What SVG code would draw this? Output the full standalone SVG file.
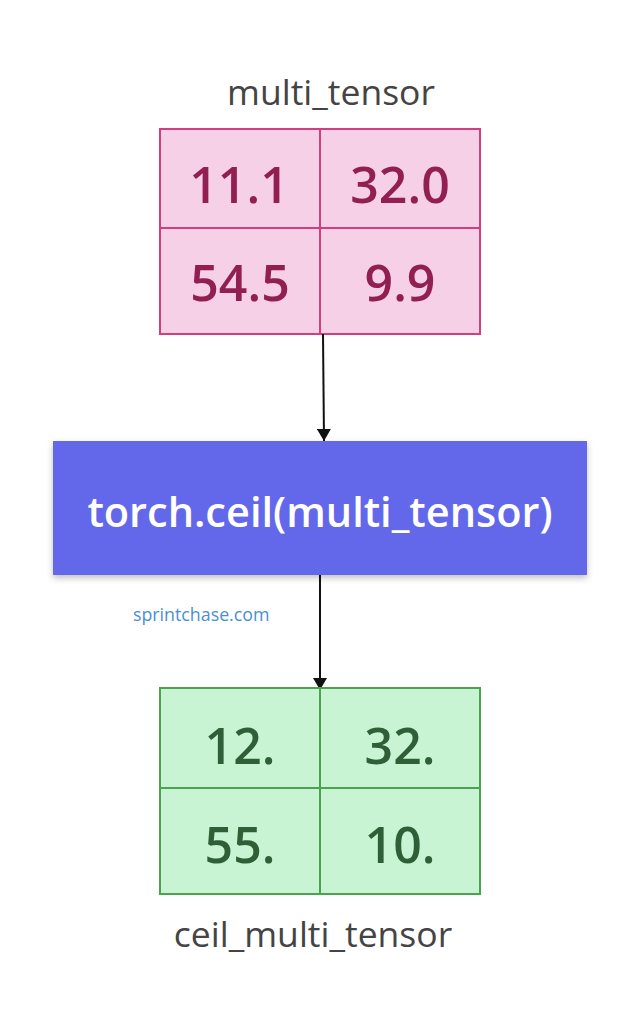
<svg xmlns="http://www.w3.org/2000/svg" width="640" height="1024" viewBox="0 0 640 1024">
<defs>
<style>
.lbl{font-family:"Open Sans","Noto Sans",sans-serif;font-size:35.5px;fill:#444;text-anchor:middle}
.pk{fill:#f5d0e6;stroke:#d04080;stroke-width:2}
.gr{fill:#c8f4d4;stroke:#4ca250;stroke-width:2}
.num{font-family:"Open Sans","Noto Sans",sans-serif;font-size:50px;font-weight:600;text-anchor:middle}
.pt{fill:#921f51}
.gt{fill:#2f5f36}
.conn{stroke:#111;stroke-width:2;fill:none}
</style>
<marker id="ah" viewBox="0 0 12 14" refX="12" refY="7" markerWidth="12" markerHeight="14" markerUnits="userSpaceOnUse" orient="auto">
<path d="M0,0 L12,7 L0,14 z" fill="#111"/>
</marker>
<filter id="sh" x="-10%" y="-10%" width="120%" height="130%">
<feDropShadow dx="0" dy="3" stdDeviation="3" flood-color="#000" flood-opacity="0.25"/>
</filter>
</defs>
<rect width="640" height="1024" fill="#fff"/>
<g id="multi_tensor">
<text class="lbl" x="331" y="105">multi_tensor</text>
<rect class="pk" x="160" y="129" width="160" height="99"/>
<rect class="pk" x="320" y="129" width="160" height="99"/>
<rect class="pk" x="160" y="228" width="160" height="106"/>
<rect class="pk" x="320" y="228" width="160" height="106"/>
<text class="num pt" x="239" y="203">11.1</text>
<text class="num pt" x="400" y="203">32.0</text>
<text class="num pt" x="240" y="301">54.5</text>
<text class="num pt" x="400" y="301">9.9</text>
</g>
<g id="connectors">
<line class="conn" x1="323" y1="334" x2="324" y2="441" marker-end="url(#ah)"/>
<line class="conn" x1="320" y1="575" x2="320" y2="690" marker-end="url(#ah)"/>
</g>
<g id="torch_ceil">
<rect x="53" y="441" width="534" height="134" fill="#6467ea" filter="url(#sh)"/>
<text x="320" y="527" font-family="'Open Sans','Noto Sans',sans-serif" font-size="41.5" font-weight="600" fill="#fff" text-anchor="middle">torch.ceil(multi_tensor)</text>
</g>
<text x="133" y="621" font-family="'Open Sans','Noto Sans',sans-serif" font-size="17.8" fill="#4a8fd6">sprintchase.com</text>
<g id="ceil_multi_tensor">
<rect class="gr" x="160" y="688" width="160" height="100"/>
<rect class="gr" x="320" y="688" width="160" height="100"/>
<rect class="gr" x="160" y="788" width="160" height="106"/>
<rect class="gr" x="320" y="788" width="160" height="106"/>
<text class="num gt" x="240" y="764">12.</text>
<text class="num gt" x="400" y="764">32.</text>
<text class="num gt" x="240" y="863">55.</text>
<text class="num gt" x="400" y="863">10.</text>
<text class="lbl" x="313" y="947">ceil_multi_tensor</text>
</g>
</svg>
